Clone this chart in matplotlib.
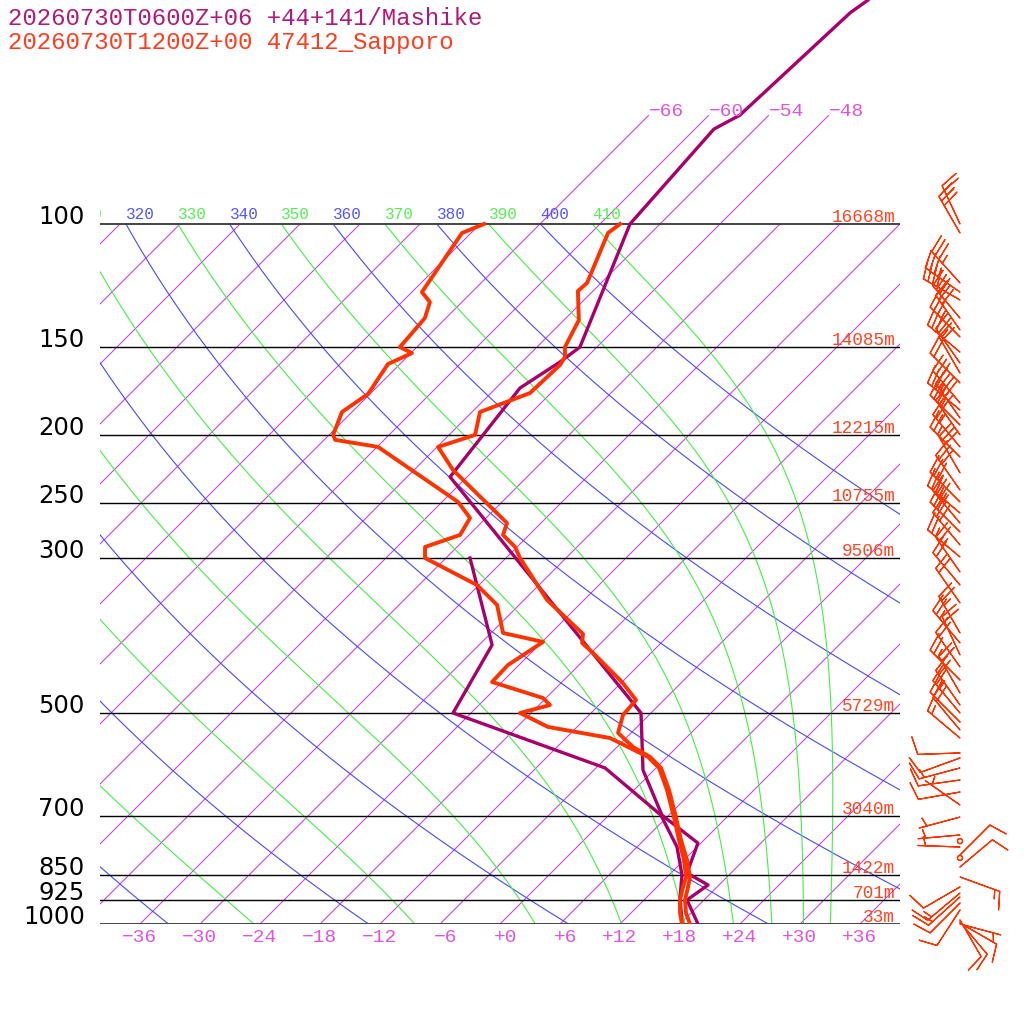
import numpy as np
import matplotlib
matplotlib.use("Agg")
import matplotlib.pyplot as plt
from matplotlib.transforms import offset_copy

# header lines
title_mashike = "20260730T0600Z+06 +44+141/Mashike"
title_sapporo = "20260730T1200Z+00 47412_Sapporo"

# standard levels and Sapporo heights
levels = [100, 150, 200, 250, 300, 500, 700, 850, 925, 1000]
heights = ["16668m", "14085m", "12215m", "10755m", "9506m",
           "5729m", "3040m", "1422m", "701m", "33m"]

# Mashike (model) temperature / dewpoint
mas_p = [47.9, 49.9, 69.9, 73.2, 100, 149.9, 157.4, 171.5, 229.8, 499.5,
         602.6, 698.9, 766.3, 845.5, 879.6, 924.1, 1000]
mas_t = [-55.6, -56.1, -56.9, -58.1, -57.0, -49.7, -50.2, -51.6, -49.7, -7.0,
         -1.1, 5.3, 11.7, 13.6, 16.9, 16.3, 19.8]
mas_td_p = [300, 399.3, 499.5, 598.5, 698.9, 776.2, 851.1, 914.9, 1000]
mas_td = [-39.6, -28.7, -25.8, -5.1, 5.2, 10.0, 13.3, 15.3, 18.2]

# Sapporo (sonde) temperature / dewpoint
sap_p = [100, 103, 121.4, 124.7, 137.2, 149.9, 154.9, 159, 174.4, 185.6,
         200.1, 208.2, 224.6, 267.4, 278.1, 289.3, 300, 344.4, 385.2, 396.7,
         410, 451.1, 478.6, 502.8, 533.4, 558.6, 577.2, 598.5, 643.5, 703.5,
         758.6, 810.1, 856.7, 885.3, 924.1, 964.5, 1000]
sap_t = [-58.0, -58.3, -55.4, -55.5, -52.5, -51.2, -50.2, -49.9, -50.1, -53.2,
         -51.4, -53.9, -50.1, -39.4, -38.6, -36.2, -34.6, -27.7, -20.7, -19.9,
         -17.8, -12.0, -8.8, -8.6, -7.3, -4.4, -1.7, 0.5, 3.5, 6.9,
         9.7, 12.3, 14.3, 15.1, 16.1, 17.5, 19.0]
sap_td_p = [100, 103, 125.1, 129.3, 136.3, 149.9, 152.9, 158.5, 174.9, 185.6,
            200.1, 203.4, 208.2, 249.5, 263.0, 278.1, 289.3, 300, 327.9, 350.1,
            383.9, 395.4, 426.6, 451.1, 475.5, 486.6, 499.5, 523.0, 542.4, 577.2,
            598.5, 643.5, 703.5, 758.6, 810.1, 856.7, 885.3, 924.1, 964.5, 1000]
sap_td = [-71.6, -72.9, -71.0, -69.2, -68.1, -67.7, -65.9, -67.2, -66.2, -67.0,
          -65.6, -64.9, -59.9, -46.4, -43.6, -42.9, -45.2, -44.1, -36.2, -32.2,
          -28.8, -23.9, -25.1, -25.0, -18.3, -16.9, -19.1, -14.9, -7.6, -1.9,
          0.3, 3.3, 6.7, 9.5, 12.0, 13.9, 14.6, 15.6, 16.9, 18.2]

# Sapporo winds (hPa, deg, kt)
wind_p = [100.0, 103.0, 121.4, 125.1, 128.4, 136.3, 141.7, 145.0, 152.4, 158.0,
          163.3, 168.7, 180.2, 184.4, 189.3, 193.7, 200.1, 208.2, 215.2, 226.8,
          239.9, 249.5, 258.7, 267.4, 275.4, 287.4, 299.0, 314.1, 327.9, 347.8,
          383.9, 396.7, 412.7, 429.4, 448.1, 467.7, 486.6, 499.5, 514.6, 528.2,
          542.4, 569.7, 579.2, 598.5, 622.7, 647.8, 676.1, 703.5, 746.2, 761.3,
          776.2, 796.8, 804.7, 828.9, 856.7, 885.3, 903.2, 914.9, 933.3, 955.0,
          986.9, 993.0, 996.7, 1000]
wind_dir = [335, 330, 318, 305, 300, 320, 325, 315, 310, 325,
            330, 315, 320, 310, 325, 315, 325, 320, 315, 330,
            325, 315, 310, 320, 315, 320, 310, 325, 320, 325,
            330, 320, 335, 325, 315, 330, 325, 320, 315, 320,
            310, 268, 250, 255, 262, 260, 305, 255, 265, 0,
            272, 45, 0, 50, 110, 240, 230, 228, 225, 213,
            150, 140, 120, 105]
wind_kt = [25, 30, 35, 35, 40, 30, 30, 35, 30, 25,
           20, 20, 30, 35, 40, 35, 30, 25, 25, 30,
           30, 30, 35, 35, 30, 30, 25, 25, 20, 20,
           25, 25, 20, 20, 25, 20, 20, 25, 20, 20,
           15, 10, 10, 15, 10, 10, 5, 5, 5, 0,
           5, 10, 0, 10, 15, 10, 15, 15, 10, 10,
           10, 10, 10, 5]

T_ISO = np.arange(-108, 37, 6)
T_ISO_TOP = [-66, -60, -54, -48]
THETA = np.arange(240, 401, 20)
THETA_E = np.arange(250, 411, 20)

PURPLE = "#a8006a"
RED = "#ff3300"
ISO_C = "#c83ce8"
DRY_C = "#4848ff"
WET_C = "#44ee44"
SKEW = 70.0


def skx(t, p):
    return np.asarray(t, float) + SKEW * np.log10(1000.0 / np.asarray(p, float))


def dtdp(tk, p):
    es = 6.112 * np.exp(17.67 * (tk - 273.15) / (tk - 29.65))
    rs = 0.622 * es / (p - es)
    num = 287.04 * tk + 2.501e6 * rs
    den = 1005.7 + 2.501e6 ** 2 * rs * 0.622 / (287.04 * tk * tk)
    return num / den / p


def lift(t0, pres):
    t = t0
    out = [t]
    for p0, p1 in zip(pres[:-1], pres[1:]):
        k1 = dtdp(t, p0)
        k2 = dtdp(t + k1 * (p1 - p0), p1)
        t = t + 0.5 * (k1 + k2) * (p1 - p0)
        out.append(t)
    return np.array(out)


def moist_adiabat(the, pres):
    # pseudo-adiabat that ends on the dry adiabat theta = the at the top
    target = the * (pres[-1] / 1000.0) ** 0.2857
    lo, hi = 220.0, 320.0
    for _ in range(30):
        mid = 0.5 * (lo + hi)
        if lift(mid, pres)[-1] > target:
            hi = mid
        else:
            lo = mid
    return lift(0.5 * (lo + hi), pres) - 273.15


fig = plt.figure(figsize=(10.24, 10.24), dpi=100)
pmin = 1000.0 * 10 ** (-924.0 / 700.0)
ax = fig.add_axes([100 / 1024, 100 / 1024, 800 / 1024, 924 / 1024])
ax.set_yscale("log")
ax.set_ylim(1000, pmin)
ax.set_xlim(-40, 40)
ax.axis("off")

pres = np.geomspace(1000, 100, 300)
mono = "Liberation Mono"

# isotherms
for t in T_ISO:
    ax.plot(skx(t, pres), pres, color=ISO_C, lw=0.75)
pres_top = np.geomspace(100, 70, 40)
for t in T_ISO_TOP:
    ax.plot(skx(t, pres_top), pres_top, color=ISO_C, lw=0.75)
    ax.text(skx(t, 70), 70, f"{t:+d}".replace("-", "\u2212"), color="#dd55dd",
            fontsize=14, family=mono, ha="left", va="baseline", clip_on=False)

# dry adiabats
lab_tr = offset_copy(ax.transData, fig=fig, x=0, y=5, units="dots")
for th in THETA:
    tt = th * (pres / 1000.0) ** 0.2857 - 273.15
    ax.plot(skx(tt, pres), pres, color=DRY_C, lw=0.8)
    xl = skx(tt[-1], 100)
    if xl > -43.5:
        ax.text(xl, 100, f"{th}", color="#5555ff", fontsize=11.5,
                family=mono, ha="left", va="baseline", transform=lab_tr, clip_on=True)

# moist (pseudo) adiabats
for the in THETA_E:
    tt = moist_adiabat(the, pres)
    ax.plot(skx(tt, pres), pres, color=WET_C, lw=0.8)
    xl = skx(tt[-1], 100)
    if xl > -43.5:
        ax.text(xl, 100, f"{the}", color="#55ee55", fontsize=11.5,
                family=mono, ha="left", va="baseline", transform=lab_tr, clip_on=True)

# pressure levels
hgt_tr = offset_copy(ax.transData, fig=fig, x=0, y=2, units="dots")
for lev, h in zip(levels, heights):
    edge = lev in (100, 1000)
    ax.plot([-40, 40], [lev, lev], color="#444444" if edge else "black",
            lw=1.4 if edge else 1.0)
    ax.text(-41.5, lev, str(lev), fontsize=17.5, family="DejaVu Sans",
            color="black", ha="right", va="baseline", clip_on=False)
    ax.text(39.5, lev, h, fontsize=12.8, family=mono, color="#ff4422",
            ha="right", va="baseline", transform=hgt_tr)

# temperature labels at bottom
bot_tr = offset_copy(ax.transData, fig=fig, x=0, y=-5, units="dots")
for t in range(-36, 37, 6):
    ax.text(t + 1.7, 1000, f"{t:+d}".replace("-", "\u2212"), color="#dd55dd",
            fontsize=14, family=mono, ha="right", va="top", transform=bot_tr,
            clip_on=False)

# soundings
ax.plot(skx(mas_t, mas_p), mas_p, color=PURPLE, lw=2.4)
ax.plot(skx(mas_td, mas_td_p), mas_td_p, color=PURPLE, lw=2.4)
ax.plot(skx(sap_td, sap_td_p), sap_td_p, color=RED, lw=2.8)
ax.plot(skx(sap_t, sap_p), sap_p, color=RED, lw=2.8)

# wind barbs
wd = np.radians(wind_dir)
spd = np.array(wind_kt, float)
u = -spd * np.sin(wd)
v = -spd * np.cos(wd)
ax.barbs(np.full(len(wind_p), 46.0), wind_p, u, v, length=7.8, color=RED,
         linewidth=0.9, pivot="tip", clip_on=False,
         sizes=dict(emptybarb=0.06, height=0.42))

fig.text(8 / 1024, 1 - 25 / 1024, title_mashike, color="#b0187a", fontsize=17.3,
         family=mono, va="baseline")
fig.text(8 / 1024, 1 - 49 / 1024, title_sapporo, color="#ff3c1e", fontsize=17.3,
         family=mono, va="baseline")

fig.savefig("out.png", dpi=100, facecolor="white")
